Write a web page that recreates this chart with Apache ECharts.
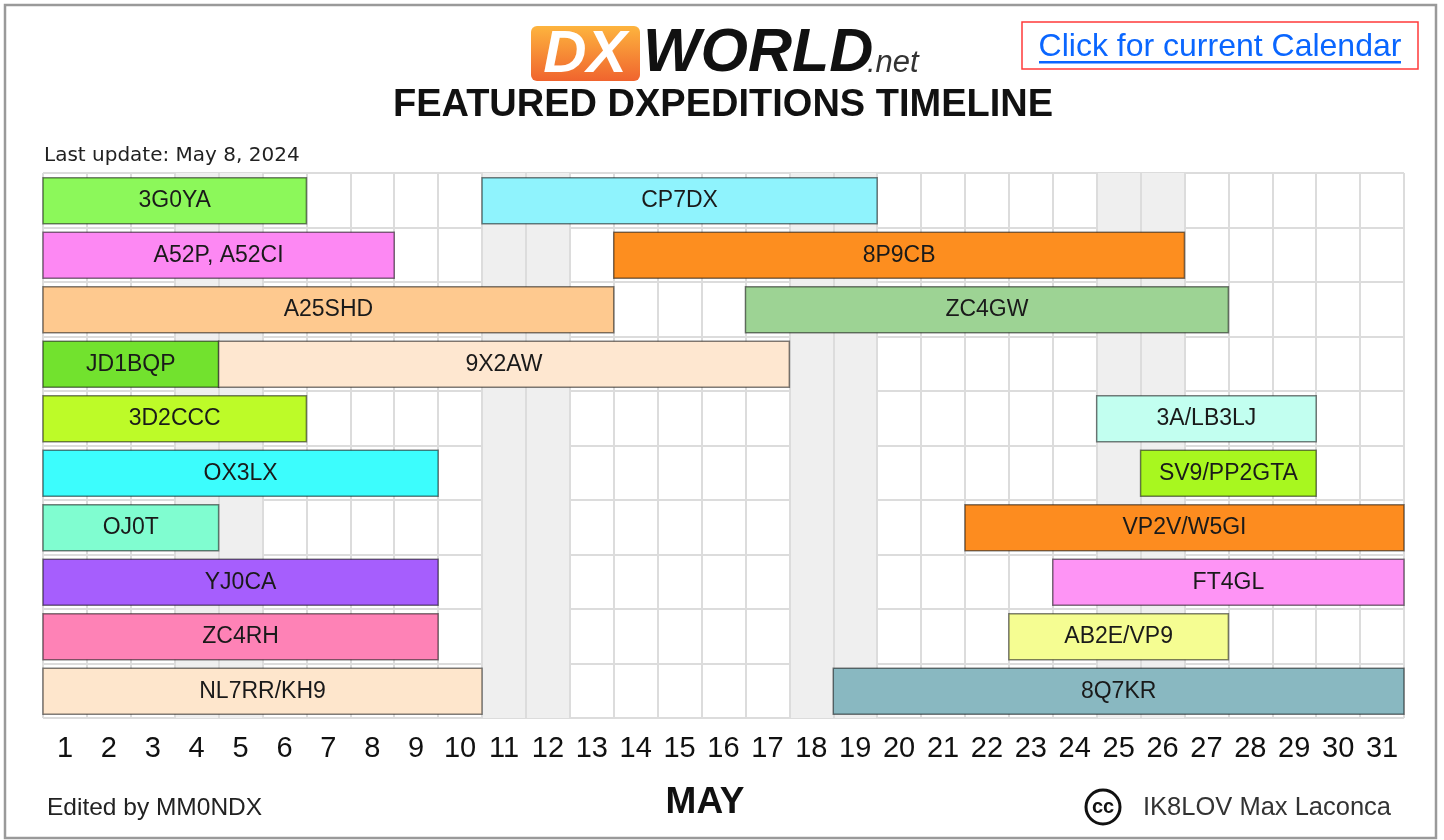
<!DOCTYPE html>
<html>
<head>
<meta charset="utf-8">
<script src="https://cdn.jsdelivr.net/npm/echarts@6/dist/echarts.min.js"></script>
<style>html,body{margin:0;padding:0;background:#fff;}#main{width:1444px;height:840px;}</style>
</head>
<body>
<div id="main"></div>
<script>
// ---- data ----
const days = ['1','2','3','4','5','6','7','8','9','10','11','12','13','14','15','16','17','18','19','20','21','22','23','24','25','26','27','28','29','30','31'];
const weekendDays = [4, 5, 11, 12, 18, 19, 25, 26];
const rows = ['r1','r2','r3','r4','r5','r6','r7','r8','r9','r10'];
const callsigns = ['3G0YA','CP7DX','A52P, A52CI','8P9CB','A25SHD','ZC4GW','JD1BQP','9X2AW','3D2CCC','3A/LB3LJ','OX3LX','SV9/PP2GTA','OJ0T','VP2V/W5GI','YJ0CA','FT4GL','ZC4RH','AB2E/VP9','NL7RR/KH9','8Q7KR'];
const rowIndex  = [0,0,1,1,2,2,3,3,4,4,5,5,6,6,7,7,8,8,9,9];
const startDay  = [1,11,1,14,1,17,1,5,1,25,1,26,1,22,1,24,1,23,1,19];
const endDay    = [6,19,8,26,13,27,4,17,6,29,9,29,4,31,9,31,9,27,10,31];
const barColors = ['#8cf85a','#8ff3fd','#fd88f3','#fd8e1f','#fec98f','#9dd394','#72e22e','#fee7d0','#bdfb28','#c2fff0','#3cfdfd','#a8f71f','#80fdd0','#fd8c1f','#a65efd','#fe94f5','#fe82b6','#f5fd92','#fee6cc','#89b8c1'];

// ---- build ----
const FONT = "'Liberation Sans', Arial, sans-serif";
const areaColors = days.map((d) => weekendDays.indexOf(+d) >= 0 ? '#efefef' : 'rgba(0,0,0,0)');
const barData = callsigns.map((c, i) => ({ value: [rowIndex[i], startDay[i], endDay[i]], name: c, itemStyle: { color: barColors[i] } }));

const chart = echarts.init(document.getElementById('main'), null, { renderer: 'canvas' });
chart.setOption({
  backgroundColor: '#ffffff',
  animation: false,
  grid: { left: 43, top: 173, width: 1361, height: 545 },
  xAxis: [
    { type: 'value', min: 0, max: 31, interval: 1,
      axisLine: { show: false }, axisTick: { show: false }, axisLabel: { show: false },
      splitLine: { show: true, lineStyle: { color: '#dcdcdc', width: 2 } },
      splitArea: { show: true, areaStyle: { color: areaColors } } },
    { type: 'category', data: days, position: 'bottom', boundaryGap: true,
      axisLine: { show: false }, axisTick: { show: false }, splitLine: { show: false },
      axisLabel: { fontFamily: FONT, fontSize: 29, color: '#111', margin: 16 } }
  ],
  yAxis: { type: 'category', data: rows, inverse: true,
    axisLine: { show: false }, axisTick: { show: false }, axisLabel: { show: false },
    splitLine: { show: true, interval: 0, lineStyle: { color: '#dcdcdc', width: 2 } } },
  series: [{
    type: 'custom', xAxisIndex: 0, yAxisIndex: 0,
    data: barData,
    renderItem: function (params, api) {
      const r = api.value(0), s = api.value(1), e = api.value(2);
      const p0 = api.coord([s - 1, r]);
      const p1 = api.coord([e, r]);
      const h = api.size([0, 1])[1] * 0.845;
      const item = barData[params.dataIndex];
      return {
        type: 'group',
        children: [
          { type: 'rect', shape: { x: p0[0], y: p0[1] - h / 2 + 0.5, width: p1[0] - p0[0], height: h },
            style: { fill: item.itemStyle.color, stroke: 'rgba(0,0,0,0.5)', lineWidth: 1.5 } },
          { type: 'text', x: (p0[0] + p1[0]) / 2, y: p0[1] + 0.5,
            style: { text: item.name, fill: '#1a1a1a', font: '23px ' + FONT, align: 'center', verticalAlign: 'middle' } }
        ]
      };
    }
  }],
  graphic: [
    { type: 'rect', shape: { x: 5, y: 5, width: 1431, height: 833 }, style: { fill: 'none', stroke: '#9a9a9a', lineWidth: 2.5 }, silent: true },
    // logo
    { type: 'rect', shape: { x: 531, y: 26, width: 109, height: 55, r: 6 },
      style: { fill: new echarts.graphic.LinearGradient(0, 0, 0, 1, [{ offset: 0, color: '#fdb43e' }, { offset: 1, color: '#f0642e' }]) } },
    { type: 'text', x: 585, y: 55, style: { text: 'DX', font: 'italic bold 60px ' + FONT, fill: '#ffffff', align: 'center', verticalAlign: 'middle' } },
    { type: 'text', x: 643, y: 54, style: { text: 'WORLD', font: 'italic bold 61px ' + FONT, fill: '#111111', align: 'left', verticalAlign: 'middle' } },
    { type: 'text', x: 867, y: 63, style: { text: '.net', font: 'italic 31px ' + FONT, fill: '#333333', align: 'left', verticalAlign: 'middle' } },
    { type: 'text', x: 723, y: 106, style: { text: 'FEATURED DXPEDITIONS TIMELINE', font: 'bold 38px ' + FONT, fill: '#111111', align: 'center', verticalAlign: 'middle' } },
    // link
    { type: 'rect', shape: { x: 1022, y: 22, width: 396, height: 47 }, style: { fill: 'none', stroke: '#ff3a3a', lineWidth: 1.5 } },
    { type: 'text', x: 1220, y: 47, style: { text: 'Click for current Calendar', font: '32px ' + FONT, fill: '#0a66ff', align: 'center', verticalAlign: 'middle' } },
    { type: 'rect', shape: { x: 1039, y: 61, width: 362, height: 2.5 }, style: { fill: '#0a66ff' } },
    // last update
    { type: 'text', x: 44, y: 156, style: { text: 'Last update: May 8, 2024', font: "20px 'DejaVu Sans', sans-serif", fill: '#222', align: 'left', verticalAlign: 'middle' } },
    // footer
    { type: 'text', x: 47, y: 808, style: { text: 'Edited by MM0NDX', font: '24.5px ' + FONT, fill: '#222', align: 'left', verticalAlign: 'middle' } },
    { type: 'text', x: 705, y: 803, style: { text: 'MAY', font: 'bold 37px ' + FONT, fill: '#111', align: 'center', verticalAlign: 'middle' } },
    { type: 'circle', shape: { cx: 1103, cy: 807, r: 17 }, style: { fill: '#fff', stroke: '#111', lineWidth: 3 } },
    { type: 'text', x: 1103, y: 807, style: { text: 'cc', font: 'bold 20px ' + FONT, fill: '#111', align: 'center', verticalAlign: 'middle' } },
    { type: 'text', x: 1143, y: 808, style: { text: 'IK8LOV Max Laconca', font: '25.5px ' + FONT, fill: '#333', align: 'left', verticalAlign: 'middle' } }
  ]
});
</script>
</body>
</html>
